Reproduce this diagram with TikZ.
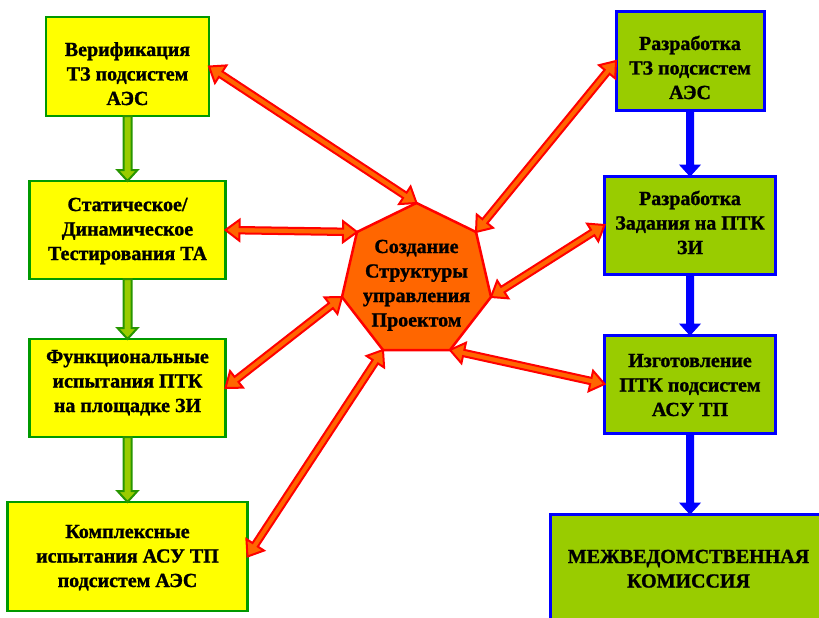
\documentclass[tikz,border=0pt]{standalone}
\usepackage{fontspec}
\setmainfont{Liberation Serif}
\newfontfamily\tnrfont{Liberation Serif}[BoldFeatures={FakeBold=1.2}]
\usetikzlibrary{calc}
\definecolor{yel}{RGB}{255,255,0}
\definecolor{grb}{RGB}{0,153,0}
\definecolor{lgr}{RGB}{153,204,0}
\definecolor{blu}{RGB}{0,0,255}
\definecolor{ora}{RGB}{255,102,0}
\definecolor{rd}{RGB}{255,0,0}
\definecolor{garr}{RGB}{40,150,0}

\newcommand{\mlines}[1]{\begin{tabular}[t]{@{}c@{}}#1\end{tabular}}

\newcommand{\dblarr}[2]{%
 \coordinate (da) at ($(#1)!14pt!(#2)$);
 \coordinate (db) at ($(#2)!14pt!(#1)$);
 \draw[redarr] (#1) -- ($(da)!10.5pt!90:(#2)$) -- ($(da)!3.2pt!90:(#2)$) -- ($(db)!3.2pt!-90:(#1)$) -- ($(db)!10.5pt!-90:(#1)$) -- (#2) -- ($(db)!10.5pt!90:(#1)$) -- ($(db)!3.2pt!90:(#1)$) -- ($(da)!3.2pt!-90:(#2)$) -- ($(da)!10.5pt!-90:(#2)$) -- cycle;}

\newcommand{\sglarr}[5]{%
 \coordinate (sa) at ($(#5)!11pt!(#4)$);
 \draw[#1] ($(#4)!#2!90:(#5)$) -- ($(sa)!#2!-90:(#4)$) -- ($(sa)!#3!-90:(#4)$) -- (#5) -- ($(sa)!#3!90:(#4)$) -- ($(sa)!#2!90:(#4)$) -- ($(#4)!#2!-90:(#5)$) -- cycle;}

\begin{document}
\begin{tikzpicture}[x=1pt,y=-1pt,
  ybox/.style={draw=grb, fill=yel, line width=2.5pt, inner sep=0pt, outer sep=0pt},
  gbox/.style={draw=blu, fill=lgr, line width=3pt, inner sep=0pt, outer sep=0pt},
  txt/.style={font=\tnrfont\bfseries\fontsize{20}{24.5}\selectfont, inner sep=0pt, anchor=base},
  redarr/.style={draw=rd, fill=ora, line width=2pt, line join=miter},
  grarr/.style={draw=garr, fill=lgr, line width=2pt},
  blarr/.style={draw=blu, fill=blu, line width=1pt}]
\fill[white] (0,0) rectangle (819,618);
\useasboundingbox (0,0) rectangle (819,618);
\clip (0,0) rectangle (819,618);

% left boxes
\node[ybox, minimum width=163pt, minimum height=99pt] (b1) at (127.5,66.5) {};
\node[ybox, minimum width=196pt, minimum height=98pt] (b2) at (127.5,230) {};
\node[ybox, minimum width=196pt, minimum height=98pt] (b3) at (127.5,388) {};
\node[ybox, minimum width=240pt, minimum height=109pt] (b4) at (127.5,556.5) {};
% right boxes
\node[gbox, minimum width=148pt, minimum height=98pt] (r1) at (690,61) {};
\node[gbox, minimum width=171pt, minimum height=98pt] (r2) at (690,225) {};
\node[gbox, minimum width=171pt, minimum height=98pt] (r3) at (690,384) {};
\node[gbox, minimum width=280pt, minimum height=126pt] (r4) at (690,577) {};

% texts
\node[txt] (t1) at (127.5,56) {\mlines{Верификация\\ТЗ подсистем\\АЭС}};
\node[txt] (t2) at (127.5,211) {\mlines{Статическое/\\Динамическое\\Тестирования ТА}};
\node[txt] (t3) at (127.5,363) {\mlines{Функциональные\\испытания ПТК\\на площадке ЗИ}};
\node[txt] (t4) at (127.5,538) {\mlines{Комплексные\\испытания АСУ ТП\\подсистем АЭС}};
\node[txt] (u1) at (690,50) {\mlines{Разработка\\ТЗ подсистем\\АЭС}};
\node[txt] (u2) at (690,205) {\mlines{Разработка\\Задания на ПТК\\ЗИ}};
\node[txt] (u3) at (690,367) {\mlines{Изготовление\\ПТК подсистем\\АСУ ТП}};
\node[txt] (u4) at (688.5,563) {\mlines{МЕЖВЕДОМСТВЕННАЯ\\КОМИССИЯ}};

% heptagon
\coordinate (h1) at (416.5,203);
\coordinate (h2) at (357,232);
\coordinate (h3) at (342,297);
\coordinate (h4) at (383,350);
\coordinate (h5) at (450,350);
\coordinate (h6) at (491,297);
\coordinate (h7) at (476,232);
\draw[draw=rd, fill=ora, line width=2.5pt, line join=miter] (h1) -- (h2) -- (h3) -- (h4) -- (h5) -- (h6) -- (h7) -- cycle;
\node[txt] (tc) at (416.5,253) {\mlines{Создание\\Структуры\\управления\\Проектом}};

% vertical arrows
\sglarr{grarr}{4pt}{10pt}{b1.south}{b2.north}
\sglarr{grarr}{4pt}{10pt}{b2.south}{b3.north}
\sglarr{grarr}{4pt}{10pt}{b3.south}{b4.north}
\sglarr{blarr}{3.5pt}{10pt}{r1.south}{r2.north}
\sglarr{blarr}{3.5pt}{10pt}{r2.south}{r3.north}
\sglarr{blarr}{3.5pt}{10pt}{r3.south}{r4.north}

% double arrows
\dblarr{b1.east}{h1}
\dblarr{b2.east}{h2}
\dblarr{b3.east}{h3}
\dblarr{b4.east}{h4}
\dblarr{r1.west}{h7}
\dblarr{r2.west}{h6}
\dblarr{r3.west}{h5}
\end{tikzpicture}
\end{document}
